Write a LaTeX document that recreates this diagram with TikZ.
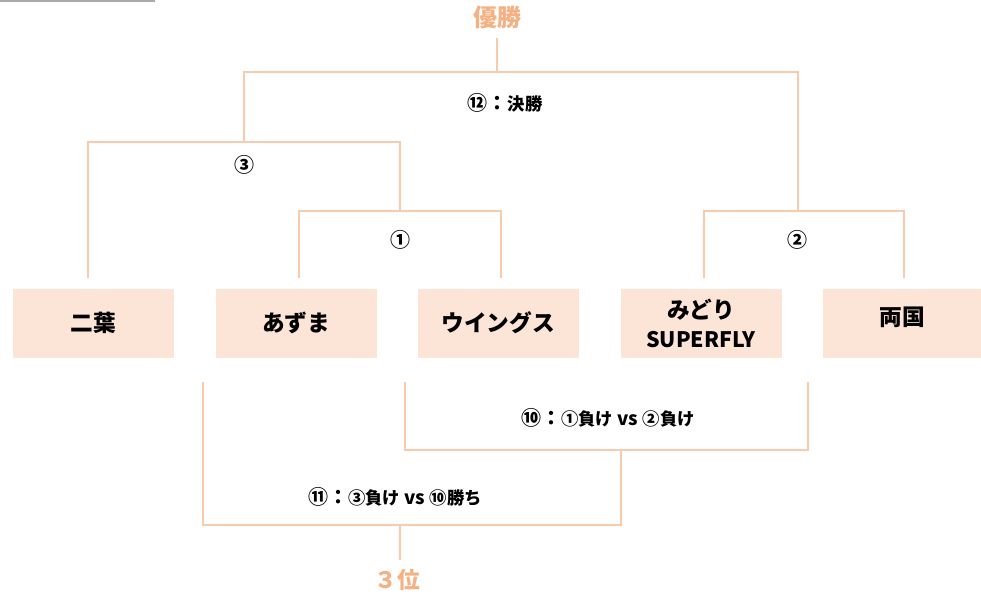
\documentclass[tikz,border=0pt]{standalone}
\usepackage{fontspec}
\setmainfont{Carlito}
\newfontfamily\jp{Noto Sans CJK JP}
\definecolor{teamfill}{RGB}{252, 228, 214}
\definecolor{bracketline}{RGB}{248, 203, 173}
\definecolor{titleorange}{RGB}{244, 177, 131}
\definecolor{rulegray}{RGB}{170, 170, 170}
\usetikzlibrary{positioning,calc}

\newcommand{\roundmark}[1]{{\jp\bfseries\fontsize{15}{18}\selectfont #1}}
\newcommand{\jpsmall}[1]{{\jp\bfseries\fontsize{13}{15}\selectfont #1}}

\tikzset{
    team/.style={rectangle, fill=teamfill, minimum width=120.75pt, minimum height=51.75pt,
        align=center, font=\jp\bfseries\fontsize{17}{21.75}\selectfont},
    bracket/.style={draw=bracketline, line width=1.5pt},
    title/.style={text=titleorange, inner ysep=7pt, font=\jp\bfseries\fontsize{18}{20}\selectfont},
    matchlabel/.style={font=\jp\bfseries\fontsize{14}{16}\selectfont}
}

\begin{document}
\begin{tikzpicture}[x=0.75pt, y=-0.75pt]
    \useasboundingbox (0,0) rectangle (981,593);
    \draw[rulegray, line width=1.1pt] (0,1) -- (155,1);

    % Teams
    \node[team] (futaba) at (93,323) {二葉};
    \node[team] (azuma) at (296,323) {あずま};
    \node[team] (wings) at (498,323) {ウイングス};
    \node[team] (midori) at (701,323) {みどり\\{\fontsize{16}{21.75}\selectfont SUPERFLY}};
    \node[team, minimum width=118.5pt, text depth=10pt] (ryogoku) at (902,323) {両国};

    % Results
    \node[title] (champ) at (497,17) {優勝};
    \node[title, font=\jp\bfseries\fontsize{17}{20}\selectfont] (third) at (397,580) {３位};

    % Junctions
    \coordinate (m1) at (400,211);
    \coordinate (m2) at (798,211);
    \coordinate (m3) at (244,142);
    \coordinate (m12) at (497,72);
    \coordinate (m10) at (621,450);
    \coordinate (m11) at (400,525);

    % Upper brackets
    \draw[bracket] ([xshift=2pt,yshift=7.5pt]azuma.north) |- (m1) -| ([xshift=2pt,yshift=7.5pt]wings.north);
    \draw[bracket] ([xshift=-4pt,yshift=7.5pt]futaba.north) |- (m3) -| (m1);
    \draw[bracket] ([xshift=2pt,yshift=7.5pt]midori.north) |- (m2) -| ([xshift=1.5pt,yshift=7.5pt]ryogoku.north);
    \draw[bracket] (m3) |- (m12) -| (m2);
    \draw[bracket] (m12) -- (m12 |- champ.south);

    % Lower brackets
    \draw[bracket] ([xshift=-9pt,yshift=-18pt]wings.south west) |- (m10) -| ([xshift=20pt,yshift=-18pt]midori.south east);
    \draw[bracket] ([xshift=-9pt,yshift=-18pt]azuma.south west) |- (m11) -| (m10);
    \draw[bracket] (m11) -- (m11 |- third.north);

    % Labels
    \node[matchlabel] (final) at (505,103) {\roundmark{⑫：}\jpsmall{決勝}};
    \node[matchlabel] (r3) at (244,165) {\roundmark{③}};
    \node[matchlabel] (r1) at (400,240) {\roundmark{①}};
    \node[matchlabel] (r2) at (797,240) {\roundmark{②}};
    \node[matchlabel] (r10) at (608,418) {\roundmark{⑩：}\jpsmall{①負け} vs \jpsmall{②負け}};
    \node[matchlabel] (r11) at (395,497) {\roundmark{⑪：}\jpsmall{③負け} vs \jpsmall{⑩勝ち}};
\end{tikzpicture}
\end{document}
